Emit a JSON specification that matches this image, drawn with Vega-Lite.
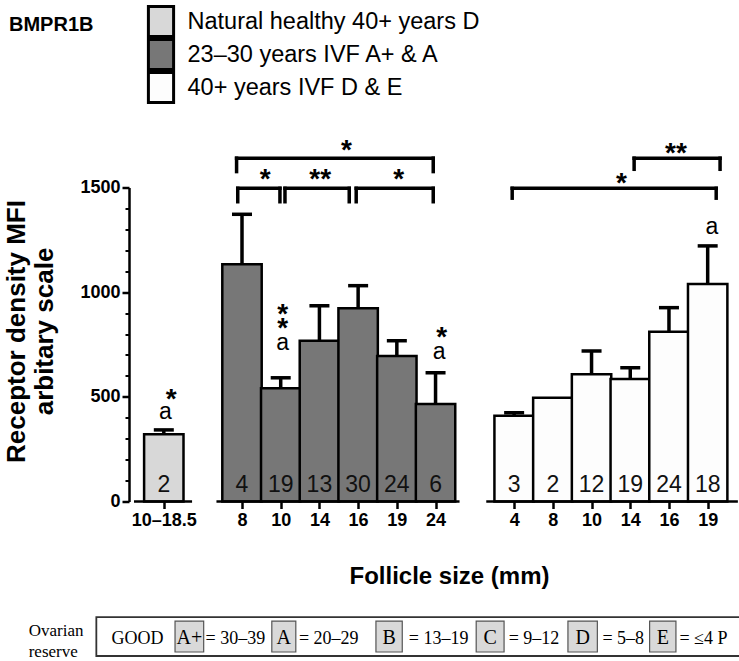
{
  "$schema": "https://vega.github.io/schema/vega-lite/v6.json",
  "width": 610,
  "height": 314,
  "autosize": {"type": "none"},
  "padding": {"left": 129, "top": 187.5, "right": 0, "bottom": 159.5},
  "background": "white",
  "config": {"view": {"stroke": null}, "font": "Liberation Sans"},
  "title": {
    "text": "BMPR1B",
    "anchor": "start",
    "frame": "group",
    "orient": "top",
    "offset": 0,
    "baseline": "alphabetic",
    "dx": -120,
    "dy": 46,
    "font": "Liberation Sans",
    "fontSize": 20,
    "fontWeight": "bold",
    "color": "black"
  },
  "datasets": {
    "bars": [
      {"group": "Natural healthy 40+ years D", "size": "10–18.5", "pos": 0.77, "mean": 321, "upper": 342, "n": 2},
      {"group": "23–30 years IVF A+ & A", "size": "8", "pos": 2.79, "mean": 1133, "upper": 1372, "n": 4},
      {"group": "23–30 years IVF A+ & A", "size": "10", "pos": 3.79, "mean": 541, "upper": 591, "n": 19},
      {"group": "23–30 years IVF A+ & A", "size": "14", "pos": 4.79, "mean": 768, "upper": 935, "n": 13},
      {"group": "23–30 years IVF A+ & A", "size": "16", "pos": 5.79, "mean": 923, "upper": 1031, "n": 30},
      {"group": "23–30 years IVF A+ & A", "size": "19", "pos": 6.79, "mean": 695, "upper": 768, "n": 24},
      {"group": "23–30 years IVF A+ & A", "size": "24", "pos": 7.79, "mean": 466, "upper": 615, "n": 6},
      {"group": "40+ years IVF D & E", "size": "4", "pos": 9.82, "mean": 410, "upper": 424, "n": 3},
      {"group": "40+ years IVF D & E", "size": "8", "pos": 10.82, "mean": 496, "upper": null, "n": 2},
      {"group": "40+ years IVF D & E", "size": "10", "pos": 11.82, "mean": 608, "upper": 719, "n": 12},
      {"group": "40+ years IVF D & E", "size": "14", "pos": 12.82, "mean": 585, "upper": 639, "n": 19},
      {"group": "40+ years IVF D & E", "size": "16", "pos": 13.82, "mean": 811, "upper": 926, "n": 24},
      {"group": "40+ years IVF D & E", "size": "19", "pos": 14.82, "mean": 1039, "upper": 1221, "n": 18}
    ],
    "baselines": [
      {"x1": 0, "x2": 1.5},
      {"x1": 2.13, "x2": 8.41},
      {"x1": 9.1, "x2": 15.6}
    ],
    "brackets": [
      {"x1": 2.65, "x2": 7.73, "y": 1640, "ylow": 1576},
      {"x1": 2.68, "x2": 3.77, "y": 1496, "ylow": 1432},
      {"x1": 3.9, "x2": 5.56, "y": 1496, "ylow": 1432},
      {"x1": 5.74, "x2": 7.73, "y": 1496, "ylow": 1432},
      {"x1": 12.92, "x2": 15.14, "y": 1640, "ylow": 1587},
      {"x1": 9.77, "x2": 15.04, "y": 1496, "ylow": 1449}
    ],
    "stars": [
      {"pos": 5.49, "y": 1708, "text": "*"},
      {"pos": 3.39, "y": 1571, "text": "*"},
      {"pos": 4.81, "y": 1571, "text": "**"},
      {"pos": 6.84, "y": 1571, "text": "*"},
      {"pos": 14.0, "y": 1692, "text": "**"},
      {"pos": 12.59, "y": 1552, "text": "*"},
      {"pos": 0.96, "y": 520, "text": "*"},
      {"pos": 3.84, "y": 923, "text": "*"},
      {"pos": 3.84, "y": 859, "text": "*"},
      {"pos": 7.95, "y": 816, "text": "*"}
    ],
    "letters": [
      {"pos": 0.81, "y": 429, "text": "a"},
      {"pos": 3.84, "y": 756, "text": "a"},
      {"pos": 7.88, "y": 712, "text": "a"},
      {"pos": 14.93, "y": 1309, "text": "a"}
    ],
    "reserveFrame": [
      {"x1": -0.973, "x2": 15.7, "y1": -552, "y2": -738}
    ],
    "reserveGrades": [
      {"grade": "A+", "b1": 1.06, "b2": 1.8, "c": 1.43},
      {"grade": "A", "b1": 3.56, "b2": 4.18, "c": 3.87},
      {"grade": "B", "b1": 6.25, "b2": 6.93, "c": 6.59},
      {"grade": "C", "b1": 8.84, "b2": 9.56, "c": 9.2},
      {"grade": "D", "b1": 11.21, "b2": 11.97, "c": 11.59},
      {"grade": "E", "b1": 13.32, "b2": 14.0, "c": 13.66}
    ],
    "reserveText": [
      {"x": -0.584, "text": "GOOD"},
      {"x": 1.85, "text": "= 30–39"},
      {"x": 4.26, "text": "= 20–29"},
      {"x": 7.1, "text": "= 13–19"},
      {"x": 9.68, "text": "= 9–12"},
      {"x": 12.1, "text": "= 5–8"},
      {"x": 14.09, "text": "= ≤4 P"}
    ],
    "reserveLabel": [
      {"x": -2.72, "y": -641, "text": "Ovarian"},
      {"x": -2.72, "y": -743, "text": "reserve"}
    ]
  },
  "layer": [
    {
      "data": {"name": "bars"},
      "mark": {"type": "bar", "width": 39.4, "stroke": "black", "strokeWidth": 2.5, "opacity": 1},
      "encoding": {
        "x": {
          "field": "pos",
          "type": "quantitative",
          "scale": {"domain": [0, 15.5], "nice": false, "zero": false},
          "axis": {
            "values": [0.77, 2.79, 3.79, 4.79, 5.79, 6.79, 7.79, 9.82, 10.82, 11.82, 12.82, 13.82, 14.82],
            "labelExpr": "['10–18.5','8','10','14','16','19','24','4','8','10','14','16','19'][indexof([0.77,2.79,3.79,4.79,5.79,6.79,7.79,9.82,10.82,11.82,12.82,13.82,14.82], datum.value)]",
            "title": "Follicle size (mm)",
            "titleFont": "Liberation Sans",
            "titleFontSize": 24,
            "titleFontWeight": "bold",
            "titleColor": "black",
            "titleX": 320,
            "titleY": 81.5,
            "titleAlign": "center",
            "titleBaseline": "alphabetic",
            "labelFont": "Liberation Sans",
            "labelFontSize": 18,
            "labelFontWeight": "bold",
            "labelColor": "black",
            "labelPadding": 3,
            "labelFlush": false,
            "labelOverlap": false,
            "labelBound": false,
            "tickSize": 7,
            "tickWidth": 2.5,
            "tickColor": "black",
            "domain": false,
            "grid": false
          }
        },
        "y": {
          "field": "mean",
          "type": "quantitative",
          "scale": {"domain": [0, 1500], "nice": false},
          "axis": {
            "orient": "left",
            "values": [0, 500, 1000, 1500],
            "format": "d",
            "title": ["Receptor density MFI", "arbitary scale"],
            "titleFont": "Liberation Sans",
            "titleFontSize": 26,
            "titleFontWeight": "bold",
            "titleColor": "black",
            "titleAngle": -90,
            "titleX": -105,
            "titleY": 143.5,
            "titleAlign": "center",
            "titleBaseline": "alphabetic",
            "titleLineHeight": 28.5,
            "labelFont": "Liberation Sans",
            "labelFontSize": 18,
            "labelFontWeight": "bold",
            "labelColor": "black",
            "labelPadding": 2,
            "tickSize": 7,
            "tickWidth": 2.5,
            "tickColor": "black",
            "domainWidth": 2.5,
            "domainColor": "black",
            "grid": false
          }
        },
        "color": {
          "field": "group",
          "type": "nominal",
          "scale": {
            "domain": ["Natural healthy 40+ years D", "23–30 years IVF A+ & A", "40+ years IVF D & E"],
            "range": ["#d8d8d8", "#777777", "#fdfdfd"]
          },
          "legend": {
            "orient": "none",
            "legendX": 15.5,
            "legendY": -182.5,
            "title": null,
            "padding": 0,
            "symbolType": "M-0.84,-1H0.84V1H-0.84Z",
            "symbolSize": 900,
            "symbolStrokeColor": "black",
            "symbolStrokeWidth": 3,
            "symbolOpacity": 1,
            "labelFont": "Liberation Sans",
            "labelFontSize": 23.5,
            "labelColor": "black",
            "labelOffset": 10,
            "labelLimit": 0,
            "clipHeight": 33,
            "rowPadding": -1
          }
        }
      }
    },
    {
      "data": {"name": "bars"},
      "transform": [{"filter": "datum.upper != null"}],
      "mark": {"type": "rule", "strokeWidth": 3.5, "color": "black"},
      "encoding": {
        "x": {"field": "pos", "type": "quantitative"},
        "y": {
          "field": "mean",
          "type": "quantitative",
          "axis": {
            "orient": "left",
            "values": [100, 200, 300, 400, 600, 700, 800, 900, 1100, 1200, 1300, 1400],
            "labels": false,
            "title": null,
            "domain": false,
            "grid": false,
            "tickSize": 4,
            "tickWidth": 2,
            "tickColor": "black"
          }
        },
        "y2": {"field": "upper"}
      }
    },
    {
      "data": {"name": "bars"},
      "transform": [{"filter": "datum.upper != null"}],
      "mark": {"type": "tick", "orient": "horizontal", "size": 20, "thickness": 3.5, "color": "black", "opacity": 1},
      "encoding": {
        "x": {"field": "pos", "type": "quantitative"},
        "y": {"field": "upper", "type": "quantitative", "axis": null}
      }
    },
    {
      "data": {"name": "baselines"},
      "mark": {"type": "rule", "strokeWidth": 2.5, "color": "black"},
      "encoding": {
        "x": {"field": "x1", "type": "quantitative"},
        "x2": {"field": "x2"},
        "y": {"datum": 0, "type": "quantitative", "axis": null}
      }
    },
    {
      "data": {"name": "bars"},
      "mark": {"type": "text", "baseline": "middle", "align": "center", "dy": -17, "fontSize": 23, "font": "Liberation Sans", "color": "#111"},
      "encoding": {
        "x": {"field": "pos", "type": "quantitative"},
        "y": {"datum": 0, "type": "quantitative", "axis": null},
        "text": {"field": "n", "type": "quantitative"}
      }
    },
    {
      "data": {"name": "brackets"},
      "mark": {"type": "rule", "strokeWidth": 3.5, "color": "black", "strokeCap": "square"},
      "encoding": {
        "x": {"field": "x1", "type": "quantitative"},
        "x2": {"field": "x2"},
        "y": {"field": "y", "type": "quantitative", "axis": null}
      }
    },
    {
      "data": {"name": "brackets"},
      "transform": [{"fold": ["x1", "x2"], "as": ["end", "legx"]}],
      "mark": {"type": "rule", "strokeWidth": 3.5, "color": "black", "strokeCap": "square"},
      "encoding": {
        "x": {"field": "legx", "type": "quantitative"},
        "y": {"field": "ylow", "type": "quantitative", "axis": null},
        "y2": {"field": "y"}
      }
    },
    {
      "data": {"name": "stars"},
      "mark": {"type": "text", "baseline": "middle", "align": "center", "dy": 7, "fontSize": 28, "fontWeight": "bold", "font": "Liberation Sans", "color": "black"},
      "encoding": {
        "x": {"field": "pos", "type": "quantitative"},
        "y": {"field": "y", "type": "quantitative", "axis": null},
        "text": {"field": "text"}
      }
    },
    {
      "data": {"name": "letters"},
      "mark": {"type": "text", "baseline": "middle", "align": "center", "dy": 0, "fontSize": 23, "font": "Liberation Sans", "color": "black"},
      "encoding": {
        "x": {"field": "pos", "type": "quantitative"},
        "y": {"field": "y", "type": "quantitative", "axis": null},
        "text": {"field": "text"}
      }
    },
    {
      "data": {"name": "reserveFrame"},
      "mark": {"type": "rect", "fill": "white", "stroke": "#333", "strokeWidth": 1.8},
      "encoding": {
        "x": {"field": "x1", "type": "quantitative"},
        "x2": {"field": "x2"},
        "y": {"field": "y1", "type": "quantitative", "axis": null},
        "y2": {"field": "y2"}
      }
    },
    {
      "data": {"name": "reserveGrades"},
      "mark": {"type": "rect", "fill": "#d9d9d9", "stroke": "#555", "strokeWidth": 1.2},
      "encoding": {
        "x": {"field": "b1", "type": "quantitative"},
        "x2": {"field": "b2"},
        "y": {"datum": -571, "type": "quantitative", "axis": null},
        "y2": {"datum": -719}
      }
    },
    {
      "data": {"name": "reserveGrades"},
      "mark": {"type": "text", "baseline": "alphabetic", "align": "center", "fontSize": 20, "font": "Liberation Serif", "color": "black"},
      "encoding": {
        "x": {"field": "c", "type": "quantitative"},
        "y": {"datum": -682, "type": "quantitative", "axis": null},
        "text": {"field": "grade"}
      }
    },
    {
      "data": {"name": "reserveText"},
      "mark": {"type": "text", "baseline": "alphabetic", "align": "left", "fontSize": 18, "font": "Liberation Serif", "color": "black"},
      "encoding": {
        "x": {"field": "x", "type": "quantitative"},
        "y": {"datum": -682, "type": "quantitative", "axis": null},
        "text": {"field": "text"}
      }
    },
    {
      "data": {"name": "reserveLabel"},
      "mark": {"type": "text", "baseline": "alphabetic", "align": "left", "fontSize": 17, "font": "Liberation Serif", "color": "black"},
      "encoding": {
        "x": {"field": "x", "type": "quantitative"},
        "y": {"field": "y", "type": "quantitative", "axis": null},
        "text": {"field": "text"}
      }
    }
  ],
  "resolve": {"axis": {"y": "independent"}}
}
